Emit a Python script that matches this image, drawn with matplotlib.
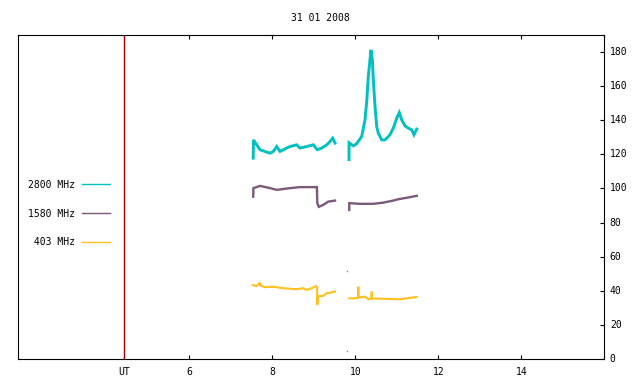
import matplotlib
matplotlib.use("Agg")
import matplotlib.pyplot as plt
from matplotlib.lines import Line2D
import numpy as np

nan = np.nan

TITLE = "31 01 2008"
UT_MARK = 4.434
X_TICKS = [UT_MARK, 6, 8, 10, 12, 14, 16]
X_LABELS = ["UT", "6", "8", "10", "12", "14", ""]
Y_TICKS = list(range(0, 181, 20))

# 2800 MHz
t_2800 = [7.540, 7.545, 7.624, 7.704, 7.824, 7.945, 8.024, 8.106, 8.186, 8.265,
          8.427, 8.588, 8.667, 8.829, 8.988, 9.084, 9.190, 9.311, 9.390, 9.455, 9.511,
          nan,
          9.848, 9.850, 9.952, 10.03, 10.154, 10.234, 10.275, 10.313, 10.354, 10.378,
          10.41, 10.434, 10.475, 10.516, 10.554, 10.636, 10.716, 10.836, 10.916, 10.998,
          11.06, 11.118, 11.198, 11.277, 11.359, 11.414, 11.48]
v_2800 = [117.8, 128.5, 125.6, 122.7, 121.7, 120.7, 121.7, 124.6, 121.7, 122.7,
          124.6, 125.6, 123.7, 124.6, 125.6, 122.7, 123.7, 125.6, 127.5, 129.5, 126.6,
          nan,
          116.9, 126.8, 125.0, 126.2, 130.5, 140.3, 151.0, 165.7, 175.5, 181.3,
          175.5, 163.7, 148.1, 136.3, 132.5, 128.5, 128.5, 131.5, 135.4, 141.2,
          144.5, 140.3, 136.7, 135.4, 134.4, 131.5, 134.8]

# 1580 MHz
t_1580 = [7.540, 7.545, 7.704, 7.945, 8.106, 8.427, 8.667, 8.988, 9.075, 9.084,
          9.12, 9.229, 9.349, 9.511,
          nan,
          9.853, 9.855, 10.113, 10.434, 10.675, 10.916, 11.036, 11.25, 11.48]
v_1580 = [95.2, 100.2, 101.5, 100.2, 99.2, 100.2, 100.8, 100.8, 100.8, 91.4,
          89.2, 90.4, 92.3, 92.9,
          nan,
          87.4, 91.4, 91.0, 91.0, 91.7, 92.9, 93.7, 94.6, 95.7]

# 403 MHz
t_403 = [7.528, 7.62, 7.704, 7.71, 7.824, 8.024, 8.265, 8.588, 8.747, 8.829,
         8.949, 9.053, 9.080, 9.084, 9.10, 9.149, 9.229, 9.311, 9.39, 9.511,
         nan,
         9.855, 9.993, 10.07, 10.072, 10.075, 10.113, 10.234, 10.313, 10.39, 10.395,
         10.40, 11.077, 11.48]
v_403 = [43.4, 42.8, 44.8, 43.0, 42.1, 42.4, 41.5, 40.9, 41.5, 40.5,
         41.5, 42.8, 42.0, 31.7, 36.5, 37.0, 37.0, 38.6, 38.9, 39.5,
         nan,
         35.6, 35.6, 36.0, 42.4, 36.0, 36.2, 36.6, 35.0, 35.5, 39.5,
         35.5, 35.0, 36.4]

# stray single samples
stray_t = [9.81, 9.81]
stray_v = [51.6, 4.9]

SERIES = [
    ("2800 MHz", t_2800, v_2800, "#00c0c0", 2.1),
    ("1580 MHz", t_1580, v_1580, "#7a5a7a", 1.7),
    (" 403 MHz", t_403, v_403, "#ffc020", 1.5),
]

FONT = "DejaVu Sans Mono"
plt.rcParams["font.family"] = FONT
plt.rcParams["font.size"] = 7

fig = plt.figure(figsize=(6.4, 3.84), dpi=100)
ax = fig.add_axes([18 / 640, 25 / 384, (604.3 - 18) / 640, (359 - 35) / 384])

handles = []
for label, t, v, col, lw in SERIES:
    ax.plot(t, v, color=col, lw=lw, solid_joinstyle="miter")
    handles.append(Line2D([], [], color=col, lw=1.0))
ax.plot(stray_t, stray_v, ls="none", marker="s", ms=1.0, color="#40a0a0", mew=0)

ax.axvline(UT_MARK, color="#a00000", lw=1.0)

ax.set_xlim(1.872, 16.0)
ax.set_ylim(0, 190)

ax.set_xticks(X_TICKS)
ax.set_xticklabels(X_LABELS)
ax.yaxis.tick_right()
ax.set_yticks(Y_TICKS)
ax.tick_params(axis="x", direction="in", length=3, width=0.8, top=True, pad=6)
ax.tick_params(axis="y", direction="in", length=3, width=0.8, left=False, right=True, pad=4)
for lab in ax.get_yticklabels():
    lab.set_verticalalignment("center")
for sp in ax.spines.values():
    sp.set_linewidth(0.8)

fig.text(0.5, 1 - 18 / 384, TITLE, ha="center", va="center", fontsize=7)

ax.legend(handles, [s[0] for s in SERIES], loc="upper left",
          bbox_to_anchor=(23 / 640, 1 - 175 / 384), bbox_transform=fig.transFigure,
          frameon=False, markerfirst=False, handlelength=2.9,
          handletextpad=0.75, labelspacing=1.93, fontsize=7, borderpad=0)

fig.savefig("out.png", dpi=100)
